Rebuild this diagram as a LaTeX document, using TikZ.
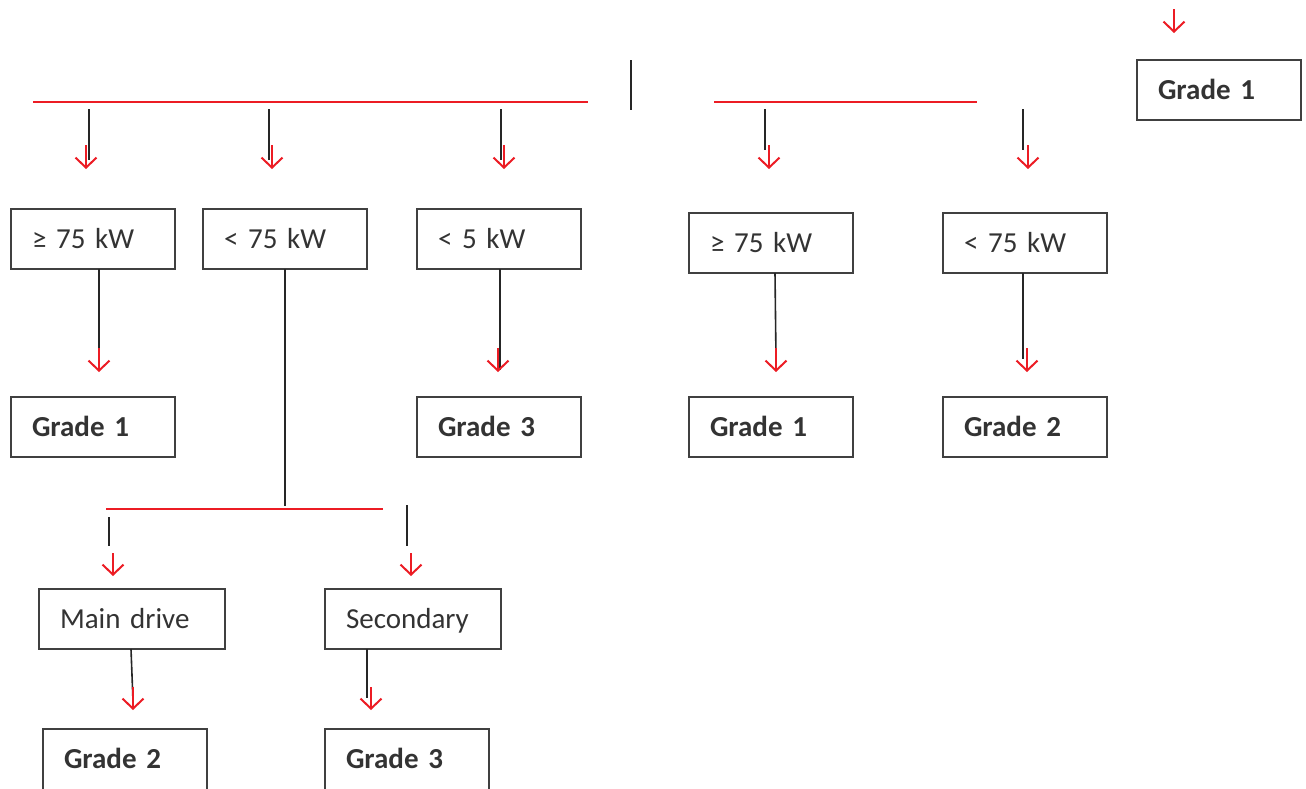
\documentclass[tikz,border=0pt]{standalone}
\usepackage{fontspec}
\setmainfont{Carlito}
\usetikzlibrary{arrows.meta}
\definecolor{arrred}{RGB}{236,28,36}
\definecolor{boxc}{RGB}{64,64,64}
\definecolor{txtc}{RGB}{51,51,51}
\definecolor{blkc}{RGB}{38,38,38}
\newcommand\regfont{\fontsize{29}{35}\selectfont}
\newcommand\bldfont{\fontsize{29}{35}\selectfont\bfseries}
\begin{document}
\begin{tikzpicture}[x=1pt,y=-1pt,
  box/.style={draw=boxc, line width=2pt, outer sep=0pt, minimum width=164pt, minimum height=60pt,
    inner xsep=21pt, inner ysep=0pt, text width=122pt, align=left, anchor=north west, font=\regfont, text=txtc,
    text height=19pt, text depth=0pt},
  gbox/.style={box, font=\bldfont},
  cutbox/.style={gbox, minimum height=66pt, text depth=6pt},
  busline/.style={draw=arrred, line width=2pt},
  blkline/.style={draw=blkc, line width=1.6pt},
  redarr/.style={draw=arrred, line width=2pt, -{Straight Barb[length=10pt,width=21pt]}}
]
\useasboundingbox (0,0) rectangle (1306,788);

% top-right
\node[gbox] (g1top) at (1137,60) {Grade 1};
\coordinate (topArrS) at (1174,9);
\draw[redarr] (topArrS) -- ++(0,24);

% group 1 bus
\coordinate (busAl) at (33,102);
\coordinate (busAr) at (588,102);
\draw[busline] (busAl) -- (busAr);
\coordinate (sep) at (631,60);
\draw[blkline] (sep) -- ++(0,50);

% group 2 bus
\coordinate (busBl) at (714,102);
\coordinate (busBr) at (977,102);
\draw[busline] (busBl) -- (busBr);

% row 1 boxes
\node[box] (b1) at (11,209) {≥ 75 kW};
\node[box] (b2) at (203,209) {< 75 kW};
\node[box] (b3) at (417,209) {< 5 kW};
\node[box] (b4) at (689,213) {≥ 75 kW};
\node[box] (b5) at (943,213) {< 75 kW};

% row 2 boxes
\node[gbox] (g1a) at (11,397) {Grade 1};
\node[gbox] (g3a) at (417,397) {Grade 3};
\node[gbox] (g1b) at (689,397) {Grade 1};
\node[gbox] (g2b) at (943,397) {Grade 2};

% row 3 boxes
\node[box, minimum width=186pt, text width=144pt] (md) at (39,589) {Main drive};
\node[box, minimum width=176pt, text width=134pt] (sec) at (325,589) {Secondary};

% row 4 boxes (cut by the bottom edge)
\node[cutbox] (g2c) at (43,729) {Grade 2};
\node[cutbox] (g3c) at (325,729) {Grade 3};

% drops from bus A
\draw[blkline] (89,109) -- ++(0,51);
\draw[redarr] (86,145) -- ++(0,24);
\draw[blkline] (269,109) -- ++(0,51);
\draw[redarr] (272,145) -- ++(0,24);
\draw[blkline] (501,109) -- ++(0,51);
\draw[redarr] (504,145) -- ++(0,24);

% drops from bus B
\draw[blkline] (765,109) -- ++(0,41);
\draw[redarr] (769,145) -- ++(0,24);
\draw[blkline] (1023,109) -- ++(0,41);
\draw[redarr] (1028,145) -- ++(0,24);

% row1 -> row2
\draw[blkline] ([xshift=6pt]b1.south) -- ++(0,101);
\draw[redarr] ([xshift=6pt,yshift=-79pt]b1.south) -- ++(0,24);
\draw[blkline] ([xshift=1pt]b3.south) -- ++(0,101);
\draw[redarr] ([xshift=-1pt,yshift=-79pt]b3.south) -- ++(0,24);
\draw[blkline] ([xshift=4pt]b4.south) -- ++(1,86);
\draw[redarr] ([xshift=5pt,yshift=-75pt]b4.south) -- ++(0,24);
\draw[blkline] ([xshift=-2pt]b5.south) -- ++(0,86);
\draw[redarr] ([xshift=2pt,yshift=-75pt]b5.south) -- ++(0,24);

% split below b2
\draw[blkline] (b2.south) -- ++(0,237);
\coordinate (busCl) at (106,509);
\coordinate (busCr) at (383,509);
\draw[busline] (busCl) -- (busCr);
\draw[blkline] (109,517) -- ++(0,29);
\draw[redarr] (113,553) -- ++(0,23);
\draw[blkline] (407,505) -- ++(0,41);
\draw[redarr] (411,553) -- ++(0,23);

% row3 -> row4
\draw[blkline] ([xshift=-1pt]md.south) -- ++(2,52);
\draw[redarr] ([xshift=1pt,yshift=-38pt]md.south) -- ++(0,23);
\draw[blkline] ([xshift=-46pt]sec.south) -- ++(0,49);
\draw[redarr] ([xshift=-42pt,yshift=-38pt]sec.south) -- ++(0,23);
\end{tikzpicture}
\end{document}
